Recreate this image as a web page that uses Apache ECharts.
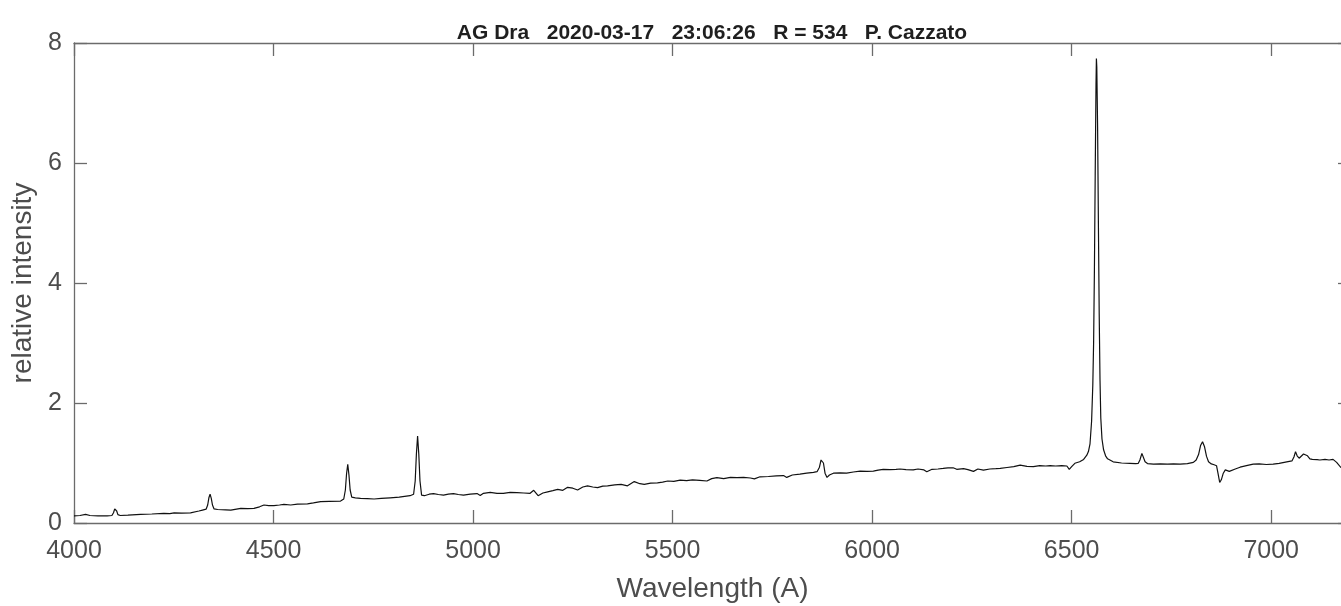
<!DOCTYPE html>
<html>
<head>
<meta charset="utf-8">
<title>AG Dra spectrum</title>
<script src="https://cdn.jsdelivr.net/npm/echarts@6/dist/echarts.min.js"></script>
<style>
  html, body { margin: 0; padding: 0; background: #ffffff; }
  #chart { width: 1341px; height: 606px; }
</style>
</head>
<body>
<div id="chart"></div>
<script>
// Spectrum of AG Dra: wavelength (Angstrom) and relative intensity
const wavelength = [
  4000, 4015, 4029, 4040, 4060, 4083, 4095, 4099, 4102, 4104, 4107, 4110, 4116, 4135, 4167, 4195,
  4225, 4240, 4251, 4270, 4292, 4313, 4322, 4331, 4335, 4338, 4341, 4344, 4347, 4351, 4360, 4380,
  4393, 4418, 4435, 4451, 4465, 4476, 4488, 4501, 4515, 4526, 4543, 4560, 4585, 4600, 4618, 4640,
  4668, 4676, 4680, 4683, 4686, 4689, 4692, 4696, 4705, 4718, 4735, 4752, 4770, 4792, 4815, 4842,
  4851, 4855, 4858, 4861, 4864, 4867, 4871, 4878, 4890, 4901, 4913, 4926, 4938, 4951, 4963, 4976,
  4993, 5010, 5018, 5026, 5043, 5060, 5076, 5093, 5110, 5127, 5143, 5152, 5163, 5175, 5187, 5200,
  5212, 5225, 5237, 5250, 5262, 5275, 5287, 5300, 5312, 5325, 5337, 5355, 5371, 5387, 5404, 5418,
  5429, 5445, 5462, 5475, 5488, 5503, 5519, 5535, 5550, 5568, 5586, 5598, 5611, 5628, 5645, 5661,
  5678, 5695, 5705, 5719, 5740, 5760, 5778, 5786, 5800, 5819, 5836, 5853, 5862, 5868, 5872, 5875,
  5878, 5882, 5887, 5893, 5903, 5920, 5936, 5953, 5970, 5987, 6003, 6015, 6028, 6045, 6060, 6070,
  6085, 6103, 6115, 6130, 6137, 6150, 6165, 6178, 6190, 6203, 6212, 6229, 6240, 6254, 6265, 6279,
  6295, 6310, 6321, 6338, 6355, 6371, 6388, 6404, 6420, 6435, 6446, 6460, 6475, 6488, 6494, 6500,
  6508, 6520, 6530, 6538, 6542, 6546, 6550, 6553, 6555, 6557, 6559, 6561, 6562, 6563, 6565, 6567,
  6569, 6571, 6573, 6576, 6580, 6585, 6590, 6604, 6625, 6646, 6660, 6667, 6671, 6676, 6679, 6684,
  6690, 6705, 6722, 6740, 6755, 6772, 6790, 6805, 6812, 6818, 6823, 6828, 6833, 6838, 6843, 6850,
  6857, 6863, 6867, 6871, 6875, 6880, 6885, 6890, 6895, 6910, 6922, 6938, 6955, 6970, 6988, 7005,
  7020, 7039, 7052, 7057, 7061, 7065, 7070, 7075, 7081, 7086, 7091, 7097, 7103, 7115, 7122, 7135,
  7145, 7155, 7164, 7174, 7185, 7200
];
const intensity = [
  0.12, 0.125, 0.145, 0.125, 0.12, 0.12, 0.125, 0.17, 0.235, 0.245, 0.2, 0.14, 0.125, 0.13, 0.145, 0.15,
  0.16, 0.155, 0.17, 0.165, 0.17, 0.2, 0.215, 0.23, 0.3, 0.42, 0.48, 0.41, 0.3, 0.235, 0.225, 0.22,
  0.215, 0.245, 0.24, 0.245, 0.27, 0.3, 0.29, 0.29, 0.3, 0.31, 0.3, 0.315, 0.32, 0.335, 0.355, 0.36,
  0.365, 0.4, 0.55, 0.82, 0.98, 0.8, 0.55, 0.43, 0.42, 0.41, 0.405, 0.4, 0.41, 0.42, 0.43, 0.455,
  0.48, 0.7, 1.15, 1.45, 1.15, 0.7, 0.465, 0.455, 0.48, 0.49, 0.475, 0.465, 0.48, 0.49, 0.475, 0.465,
  0.48, 0.49, 0.46, 0.495, 0.51, 0.495, 0.495, 0.51, 0.505, 0.5, 0.495, 0.545, 0.455, 0.5, 0.52, 0.54,
  0.56, 0.545, 0.595, 0.58, 0.55, 0.6, 0.62, 0.6, 0.59, 0.615, 0.62, 0.635, 0.645, 0.62, 0.69, 0.655,
  0.645, 0.665, 0.67, 0.68, 0.7, 0.695, 0.715, 0.705, 0.72, 0.71, 0.7, 0.74, 0.755, 0.74, 0.76, 0.755,
  0.76, 0.75, 0.735, 0.77, 0.775, 0.785, 0.79, 0.76, 0.8, 0.815, 0.83, 0.845, 0.855, 0.93, 1.05, 1.08,
  1.0, 0.83, 0.76, 0.8, 0.83, 0.835, 0.83, 0.85, 0.865, 0.86, 0.865, 0.88, 0.895, 0.89, 0.895, 0.9,
  0.89, 0.885, 0.9, 0.885, 0.855, 0.895, 0.9, 0.91, 0.92, 0.92, 0.895, 0.905, 0.89, 0.86, 0.9, 0.88,
  0.9, 0.905, 0.91, 0.925, 0.94, 0.965, 0.945, 0.94, 0.955, 0.95, 0.955, 0.95, 0.955, 0.95, 0.895, 0.94,
  0.995, 1.02, 1.06, 1.13, 1.19, 1.32, 1.7, 2.3, 3.0, 4.2, 5.8, 7.3, 7.74, 7.6, 6.6, 5.0,
  3.5, 2.4, 1.75, 1.4, 1.22, 1.12, 1.07, 1.02, 1.0, 0.995, 0.99, 0.995, 1.05, 1.16, 1.13, 1.02,
  0.99, 0.98, 0.985, 0.98, 0.985, 0.98, 0.99, 1.01, 1.05, 1.14, 1.29, 1.355, 1.27, 1.11, 1.02, 0.985,
  0.97, 0.955, 0.82, 0.675, 0.72, 0.83, 0.885, 0.865, 0.86, 0.9, 0.93, 0.955, 0.98, 0.985, 0.975, 0.98,
  0.995, 1.02, 1.035, 1.1, 1.19, 1.12, 1.08, 1.1, 1.15, 1.16, 1.12, 1.07, 1.06, 1.055, 1.05, 1.06,
  1.05, 1.06, 1.01, 0.93, 0.9, 0.9
];
const xRange = [4000, 7200];
const yRange = [0, 8];
const titleText = 'AG Dra   2020-03-17   23:06:26   R = 534   P. Cazzato';

const spectrum = wavelength.map((w, i) => [w, intensity[i]]);

const axisGray = '#6b6b6b';
const labelGray = '#4d4d4d';
const fontFam = '"Liberation Sans", Arial, Helvetica, sans-serif';

function frameAxis(extra) {
  return Object.assign({
    type: 'value',
    axisLine: { show: true, onZero: false, lineStyle: { color: axisGray, width: 1.3 } },
    axisTick: { show: true, inside: true, length: 13, lineStyle: { color: axisGray, width: 1.3 } },
    splitLine: { show: false }
  }, extra);
}

const chart = echarts.init(document.getElementById('chart'), null, { renderer: 'canvas' });
chart.setOption({
  animation: false,
  backgroundColor: '#ffffff',
  title: {
    text: titleText,
    left: 707,
    top: 18,
    textAlign: 'center',
    textStyle: { fontFamily: fontFam, fontWeight: 'bold', fontSize: 21, color: '#1f1f1f' }
  },
  // the frame runs slightly past the right edge of the canvas
  grid: { left: 74, top: 43, width: 1277, height: 480, containLabel: false, outerBoundsMode: 'none' },
  xAxis: [
    frameAxis({
      min: xRange[0], max: xRange[1], interval: 500, position: 'bottom',
      name: 'Wavelength (A)', nameLocation: 'middle', nameGap: 52,
      nameTextStyle: { fontFamily: fontFam, fontSize: 28, color: labelGray },
      axisLabel: {
        margin: 16, fontFamily: fontFam, fontSize: 25, color: labelGray,
        showMaxLabel: false, formatter: v => String(v)
      }
    }),
    frameAxis({
      min: xRange[0], max: xRange[1], interval: 500, position: 'top',
      axisLabel: { show: false }
    })
  ],
  yAxis: [
    frameAxis({
      min: yRange[0], max: yRange[1], interval: 2, position: 'left',
      name: 'relative intensity', nameLocation: 'middle', nameGap: 34,
      nameTextStyle: { fontFamily: fontFam, fontSize: 28, color: labelGray },
      axisLabel: { margin: 12, fontFamily: fontFam, fontSize: 25, color: labelGray }
    }),
    frameAxis({
      min: yRange[0], max: yRange[1], interval: 2, position: 'right',
      axisLabel: { show: false }
    })
  ],
  series: [{
    type: 'line',
    data: spectrum,
    xAxisIndex: 0,
    yAxisIndex: 0,
    showSymbol: false,
    smooth: false,
    clip: true,
    lineStyle: { color: '#111111', width: 1.2 }
  }]
});
</script>
</body>
</html>
